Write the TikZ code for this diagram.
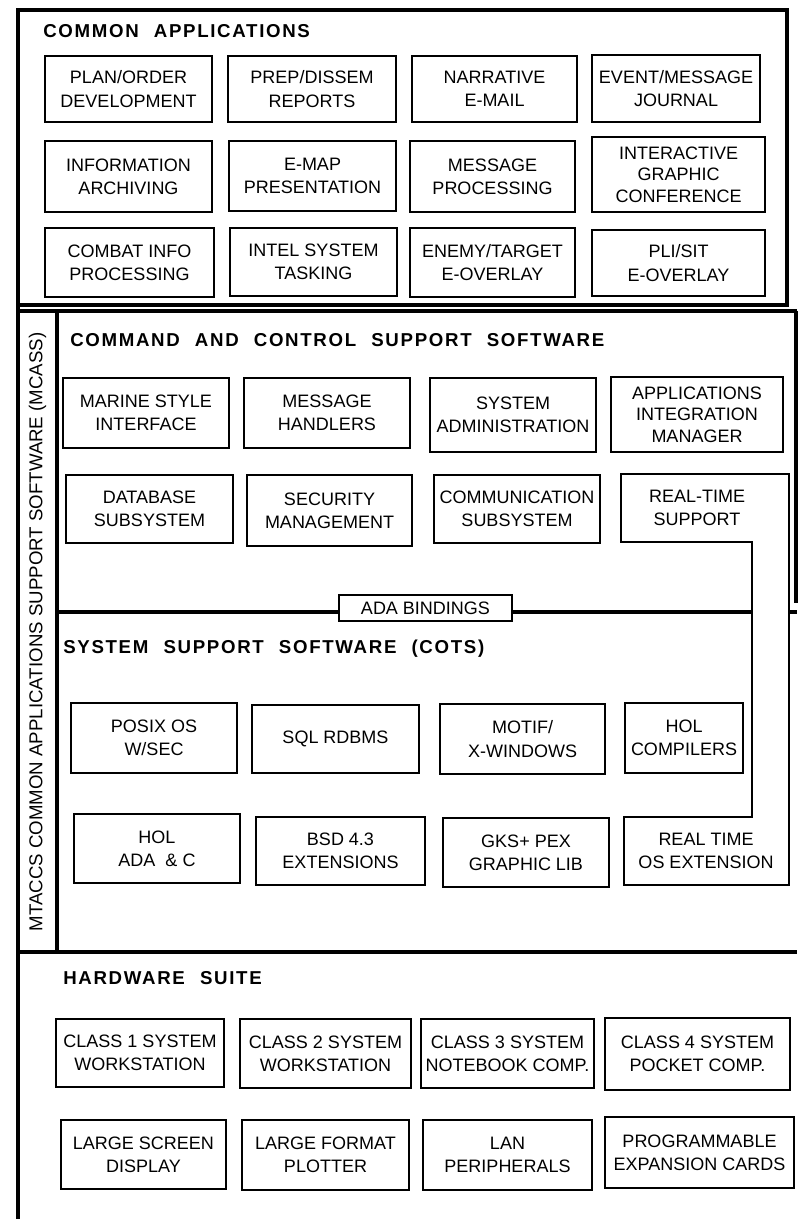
\documentclass[tikz,border=0pt]{standalone}
\usepackage{fontspec}
\setmainfont{Liberation Sans}
\newfontfamily\headfont[LetterSpace=9,WordSpace=2.2]{Liberation Sans}

\tikzset{
  frame/.style={line width=2.3pt},
  thin frame/.style={line width=1.3pt, line join=miter},
  bx/.style={draw, line width=1.2pt, inner sep=0pt, align=center,
             font=\fontsize{13.5}{17.5}\selectfont},
  bxtext/.style={inner sep=0pt, align=center, font=\fontsize{13.5}{17.5}\selectfont},
  head/.style={anchor=base west, inner sep=0pt,
               font=\headfont\bfseries\fontsize{14}{16}\selectfont},
  tight/.style={font=\fontsize{13.5}{16}\selectfont},
}

% box given by its two corners (in pixel units) and its label
\newcommand\ubox[7][]{%
  \node[bx, #1, minimum width={(#5-#3)*0.75pt}, minimum height={(#6-#4)*0.75pt}]
    (#2) at ({(#3+#5)/2},{(#4+#6)/2}) {#7};}

\begin{document}
\begin{tikzpicture}[x=0.75pt, y=-0.75pt]
\fill[white] (0,0) rectangle (797,1219);
\useasboundingbox (0,0) rectangle (797,1219);

% ---------------- outer frames ----------------
\draw[frame] (18,10) rectangle (787,305);
\draw[frame] (18,305) -- (18,1219);
\draw[frame] (18,311) -- (797,311);
\draw[frame] (796,311) -- (796,603);
\draw[frame] (57,311) -- (57,952);
\draw[frame] (18,952) -- (797,952);
\draw[frame] (57,612) -- (752,612);
\draw[frame] (790,612) -- (797,612);

% ---------------- common applications ----------------
\node[head] (tca) at (43,38) {COMMON APPLICATIONS};
\ubox{ca11}{45}{56}{212}{122}{PLAN/ORDER\\DEVELOPMENT}
\ubox{ca12}{228}{56}{396}{122}{PREP/DISSEM\\REPORTS}
\ubox{ca13}{412}{56}{577}{122}{NARRATIVE\\E-MAIL}
\ubox{ca14}{592}{55}{760}{122}{EVENT/MESSAGE\\JOURNAL}
\ubox{ca21}{45}{141}{212}{212}{INFORMATION\\ARCHIVING}
\ubox{ca22}{229}{141}{396}{211}{E-MAP\\PRESENTATION}
\ubox{ca23}{410}{141}{575}{212}{MESSAGE\\PROCESSING}
\ubox[tight]{ca24}{592}{137}{765}{212}{INTERACTIVE\\GRAPHIC\\CONFERENCE}
\ubox{ca31}{45}{228}{214}{297}{COMBAT INFO\\PROCESSING}
\ubox{ca32}{230}{228}{397}{296}{INTEL SYSTEM\\TASKING}
\ubox{ca33}{410}{228}{575}{297}{ENEMY/TARGET\\E-OVERLAY}
\ubox{ca34}{592}{230}{765}{296}{PLI/SIT\\E-OVERLAY}

% ---------------- command and control support software ----------------
\node[head] (tc2) at (70,346) {COMMAND AND CONTROL SUPPORT SOFTWARE};
\ubox{c11}{63}{378}{229}{448}{MARINE STYLE\\INTERFACE}
\ubox{c12}{244}{378}{410}{448}{MESSAGE\\HANDLERS}
\ubox{c13}{430}{378}{596}{452}{SYSTEM\\ADMINISTRATION}
\ubox[tight]{c14}{611}{377}{783}{452}{APPLICATIONS\\INTEGRATION\\MANAGER}
\ubox{c21}{66}{475}{233}{543}{DATABASE\\SUBSYSTEM}
\ubox{c22}{247}{475}{412}{546}{SECURITY\\MANAGEMENT}
\ubox{c23}{434}{475}{600}{543}{COMMUNICATION\\SUBSYSTEM}

% real-time block spanning both software layers
\draw[thin frame] (621,474) -- (789,474) -- (789,885) -- (624,885)
  -- (624,817) -- (752,817) -- (752,542) -- (621,542) -- cycle;
\node[bxtext] (rts) at (697,508) {REAL-TIME\\SUPPORT};
\node[bxtext] (rtos) at (706,851) {REAL TIME\\OS EXTENSION};

% bindings between the two layers
\ubox[fill=white]{ada}{339}{595}{512}{621}{ADA BINDINGS}

% ---------------- system support software ----------------
\node[head] (tss) at (63,653) {SYSTEM SUPPORT SOFTWARE (COTS)};
\ubox{s11}{71}{703}{237}{773}{POSIX OS\\W/SEC}
\ubox{s12}{252}{705}{419}{773}{SQL RDBMS}
\ubox{s13}{440}{704}{605}{774}{MOTIF/\\X-WINDOWS}
\ubox{s14}{625}{703}{743}{773}{HOL\\COMPILERS}
\ubox{s21}{74}{814}{240}{883}{HOL\\ADA \ \& C}
\ubox{s22}{256}{817}{425}{885}{BSD 4.3\\EXTENSIONS}
\ubox{s23}{443}{818}{609}{887}{GKS+ PEX\\GRAPHIC LIB}

% vertical label of the support software strip
\node[rotate=90, inner sep=0pt, font=\fontsize{14}{16}\selectfont] (mcass) at (37.5,632)
  {MTACCS COMMON APPLICATIONS SUPPORT SOFTWARE (MCASS)};

% ---------------- hardware suite ----------------
\node[head] (thw) at (63,984) {HARDWARE SUITE};
\ubox{h11}{56}{1019}{224}{1087}{CLASS 1 SYSTEM\\WORKSTATION}
\ubox{h12}{240}{1019}{411}{1088}{CLASS 2 SYSTEM\\WORKSTATION}
\ubox{h13}{421}{1019}{594}{1088}{CLASS 3 SYSTEM\\NOTEBOOK COMP.}
\ubox{h14}{605}{1018}{790}{1090}{CLASS 4 SYSTEM\\POCKET COMP.}
\ubox{h21}{61}{1120}{226}{1189}{LARGE SCREEN\\DISPLAY}
\ubox{h22}{242}{1120}{409}{1190}{LARGE FORMAT\\PLOTTER}
\ubox{h23}{423}{1120}{592}{1190}{LAN\\PERIPHERALS}
\ubox{h24}{605}{1117}{794}{1188}{PROGRAMMABLE\\EXPANSION CARDS}
\end{tikzpicture}
\end{document}
